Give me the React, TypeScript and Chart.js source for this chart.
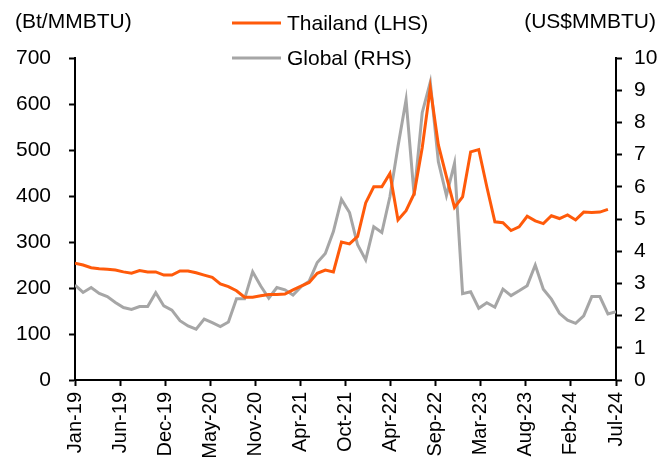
import React, { useEffect, useRef } from "react";
import { Chart, registerables } from "chart.js";

Chart.register(...registerables);

// ---- Data ----
const monthNames = ["Jan", "Feb", "Mar", "Apr", "May", "Jun", "Jul", "Aug", "Sep", "Oct", "Nov", "Dec"];
const years = ["19", "20", "21", "22", "23", "24"];
const months: string[] = [];
years.forEach((y) => monthNames.forEach((m) => months.push(`${m}-${y}`)));
const categories = months.slice(0, 68); // Jan-19 .. Aug-24

const thailand = [
  254, 250, 244, 242, 241, 239, 235, 232, 238, 235, 235, 228,
  228, 237, 237, 233, 228, 223, 209, 203, 194, 180, 180, 183,
  186, 186, 187, 196, 204, 212, 232, 239, 235, 300, 296, 312,
  385, 420, 420, 449, 348, 368, 405, 505, 635, 511, 442, 375,
  398, 496, 501, 420, 344, 342, 325, 333, 356, 346, 340, 357,
  351, 359, 348, 365, 364, 365, 371,
];

const globalLng = [
  2.95, 2.72, 2.87, 2.69, 2.59, 2.41, 2.25, 2.19, 2.28, 2.28, 2.71, 2.30,
  2.17, 1.84, 1.68, 1.58, 1.89, 1.78, 1.66, 1.80, 2.52, 2.52, 3.36, 2.92,
  2.54, 2.87, 2.80, 2.64, 2.90, 3.07, 3.65, 3.93, 4.61, 5.61, 5.20, 4.20,
  3.73, 4.76, 4.58, 5.69, 7.25, 8.70, 5.73, 8.30, 9.25, 6.78, 5.73, 6.73,
  2.68, 2.74, 2.23, 2.40, 2.26, 2.82, 2.62, 2.77, 2.93, 3.57, 2.82, 2.51,
  2.07, 1.86, 1.76, 1.99, 2.59, 2.59, 2.05, 2.12,
];

const xTickLabels = [
  "Jan-19", "Jun-19", "Dec-19", "May-20", "Nov-20", "Apr-21", "Oct-21",
  "Apr-22", "Sep-22", "Mar-23", "Aug-23", "Feb-24", "Jul-24",
];

const seriesNames = ["Thailand (LHS)", "Global (RHS)"];
const leftUnit = "(Bt/MMBTU)";
const rightUnit = "(US$MMBTU)";
const leftRange = { min: 0, max: 700, step: 100 };
const rightRange = { min: 0, max: 10, step: 1 };

// ---- Styles ----
const FONT = "Liberation Sans, Arial, Helvetica, sans-serif";
const FS = 21;
const FSX = 20;
const ORANGE = "#FF5A0A";
const GREY = "#A6A6A6";

const overlayPlugin = {
  id: "overlayText",
  afterDraw(chart: any) {
    const ctx = chart.ctx as CanvasRenderingContext2D;
    ctx.save();
    ctx.font = `${FS}px ${FONT}`;
    ctx.fillStyle = "#000";
    ctx.textBaseline = "middle";
    ctx.textAlign = "left";
    ctx.fillText(leftUnit, 15, 22);
    ctx.textAlign = "right";
    ctx.fillText(rightUnit, 656, 22);
    const rowsY = [23, 58];
    chart.data.datasets.forEach((ds: any, i: number) => {
      const y = rowsY[i];
      ctx.strokeStyle = ds.borderColor;
      ctx.lineWidth = 3;
      ctx.beginPath();
      ctx.moveTo(232, y);
      ctx.lineTo(281, y);
      ctx.stroke();
      ctx.textAlign = "left";
      ctx.fillStyle = "#000";
      ctx.fillText(ds.label, 287, y + 1);
    });
    ctx.restore();
  },
};

export default function App() {
  const ref = useRef<HTMLCanvasElement | null>(null);

  useEffect(() => {
    document.body.style.margin = "0";
    const canvas = ref.current;
    if (!canvas) return;
    const tickFont = { family: FONT, size: FS };
    const chart = new Chart(canvas, {
      type: "line",
      data: {
        datasets: [
          {
            label: seriesNames[0],
            data: thailand.map((v, i) => ({ x: i, y: v })),
            borderColor: ORANGE,
            backgroundColor: ORANGE,
            borderWidth: 3,
            pointRadius: 0,
            tension: 0,
            yAxisID: "yL",
            order: 1,
          },
          {
            label: seriesNames[1],
            data: globalLng.map((v, i) => ({ x: i, y: v })),
            borderColor: GREY,
            backgroundColor: GREY,
            borderWidth: 3,
            pointRadius: 0,
            tension: 0,
            yAxisID: "yR",
            order: 2,
          },
        ],
      },
      options: {
        responsive: false,
        animation: false,
        layout: { padding: { top: 58, left: 0, right: 0, bottom: 0 } },
        plugins: {
          legend: { display: false },
          tooltip: {
            callbacks: {
              title: (items: any[]) => categories[items[0].parsed.x] ?? "",
            },
          },
        },
        scales: {
          x: {
            type: "linear",
            min: 0,
            max: categories.length - 1,
            afterBuildTicks: (scale: any) => {
              scale.ticks = xTickLabels.map((_, k) => ({
                value: (k * (categories.length - 1)) / (xTickLabels.length - 1),
              }));
            },
            afterFit: (scale: any) => {
              scale.height = 81;
            },
            ticks: {
              autoSkip: false,
              maxRotation: 90,
              minRotation: 90,
              padding: 6,
              color: "#000",
              font: { family: FONT, size: FSX },
              callback: (_v: any, i: number) => xTickLabels[i],
            },
            grid: {
              drawOnChartArea: false,
              drawTicks: true,
              tickLength: 6,
              tickColor: "#000",
              tickWidth: 2,
            },
            border: { display: true, color: "#000", width: 2 },
          },
          yL: {
            type: "linear",
            position: "left",
            min: leftRange.min,
            max: leftRange.max,
            afterFit: (scale: any) => {
              scale.width = 75;
            },
            ticks: {
              stepSize: leftRange.step,
              padding: 18,
              color: "#000",
              font: tickFont,
            },
            grid: {
              drawOnChartArea: false,
              drawTicks: true,
              tickLength: 6,
              tickColor: "#000",
              tickWidth: 2,
            },
            border: { display: true, color: "#000", width: 2 },
          },
          yR: {
            type: "linear",
            position: "right",
            min: rightRange.min,
            max: rightRange.max,
            afterFit: (scale: any) => {
              scale.width = 56;
            },
            ticks: {
              stepSize: rightRange.step,
              padding: 12,
              color: "#000",
              font: tickFont,
            },
            grid: {
              drawOnChartArea: false,
              drawTicks: true,
              tickLength: 6,
              tickColor: "#000",
              tickWidth: 2,
            },
            border: { display: true, color: "#000", width: 2 },
          },
        },
      },
      plugins: [overlayPlugin],
    } as any);
    return () => chart.destroy();
  }, []);

  return (
    <div style={{ width: 672, height: 461 }}>
      <canvas ref={ref} width={672} height={461} style={{ display: "block" }} />
    </div>
  );
}
